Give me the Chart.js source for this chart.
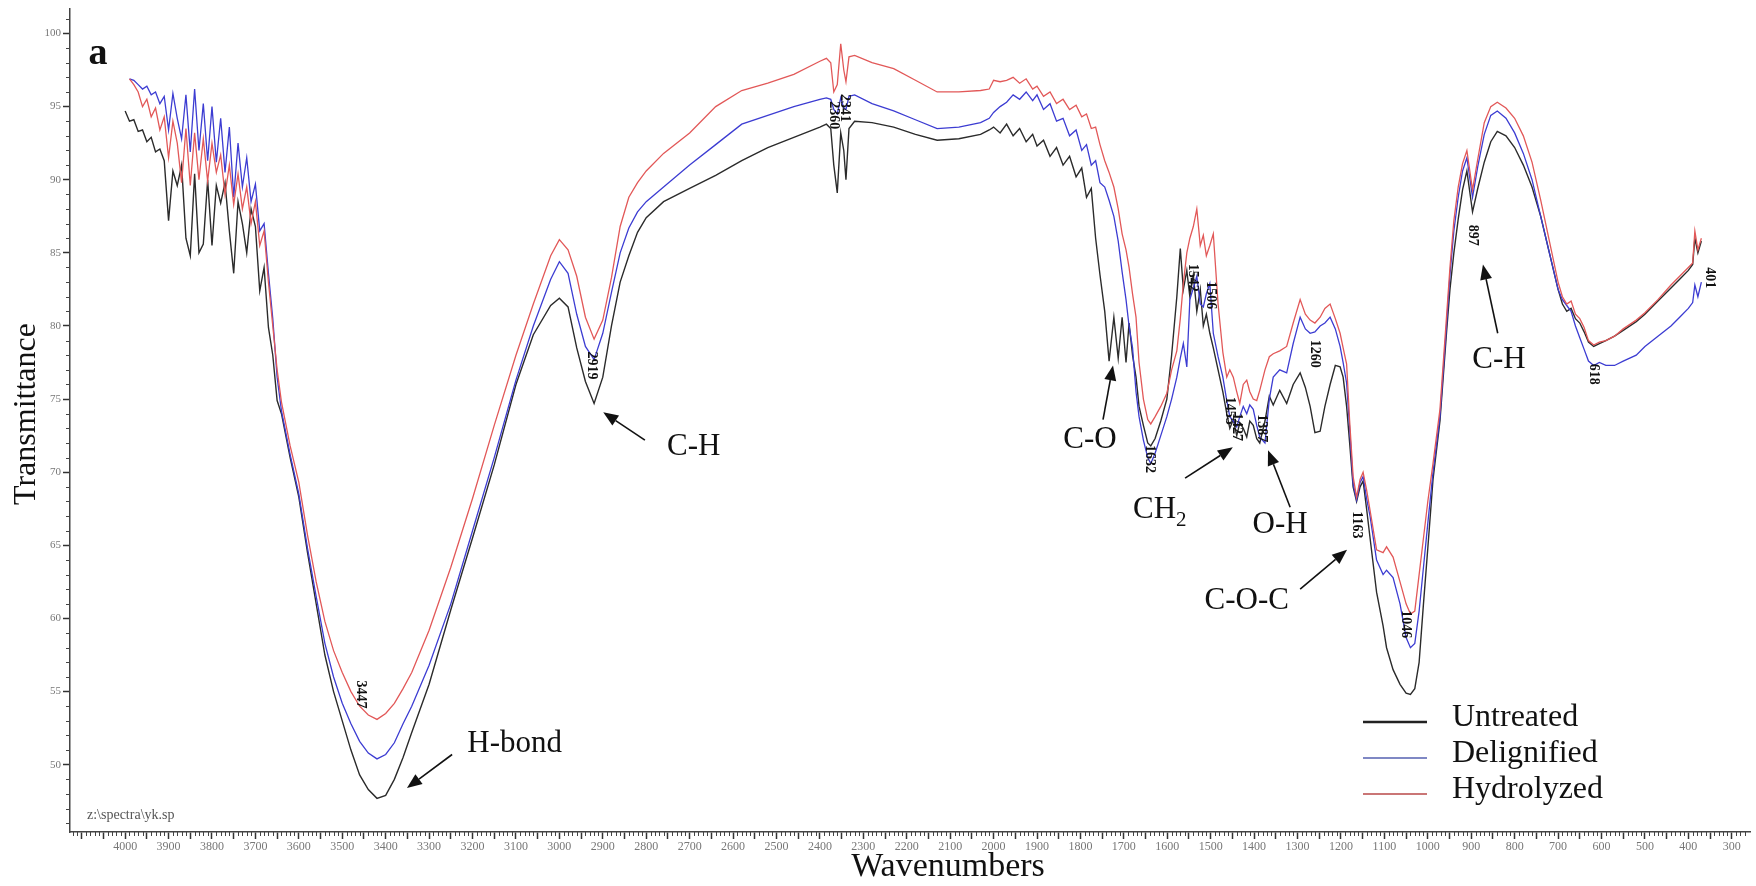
<!DOCTYPE html>
<html>
<head>
    <title>FTIR spectra</title>
    <script src="https://cdn.jsdelivr.net/npm/chart.js"></script>
    <style>
        html, body { margin: 0; padding: 0; background: #fff; }
    </style>
</head>
<body>
    <canvas id="ftirChart" width="1756" height="886"></canvas>
    <script>
    // wavenumber grid (cm-1)
    const wavenumbers = [
        4000, 3990, 3980, 3970, 3960, 3950, 3940, 3930, 3920, 3910, 3900, 3890, 3880, 3870, 3860, 3850, 3840, 3830,
        3820, 3810, 3800, 3790, 3780, 3770, 3760, 3750, 3740, 3730, 3720, 3710, 3700, 3690, 3680, 3670, 3660, 3650,
        3640, 3620, 3600, 3580, 3560, 3540, 3520, 3500, 3480, 3460, 3440, 3420, 3400, 3380, 3360, 3340,
        3300, 3250, 3200, 3150, 3100, 3060, 3020, 3000,
        2980, 2960, 2940, 2920, 2900, 2880, 2860, 2840, 2820,
        2800, 2760, 2700, 2640, 2580, 2520, 2460, 2400,
        2385, 2375, 2368, 2360, 2352, 2345, 2340, 2333, 2320,
        2280, 2230, 2180, 2130, 2080, 2030, 2010, 2000, 1985, 1970, 1955, 1940, 1925,
        1910, 1900, 1885, 1870, 1855, 1840, 1825, 1810, 1797, 1786, 1775, 1765, 1755,
        1744, 1734, 1723, 1713, 1704, 1695, 1688, 1680, 1672, 1665,
        1655, 1645, 1638, 1628, 1615, 1601, 1590, 1578, 1570, 1563,
        1555, 1548, 1540, 1532, 1524, 1517, 1510, 1502, 1494, 1483,
        1472, 1463, 1456, 1448, 1440, 1433, 1425, 1417, 1410, 1402,
        1394, 1387, 1375, 1365, 1356, 1341, 1325, 1310, 1294, 1282,
        1271, 1260, 1248, 1237, 1225, 1213, 1202, 1195, 1187, 1180,
        1172, 1164, 1156, 1149, 1141, 1133, 1118, 1103, 1095, 1080,
        1064, 1050, 1040, 1030, 1020, 1010, 1000, 988, 972, 957,
        949, 940, 930, 920, 910, 897, 885, 870, 855, 840,
        820, 800, 780, 760, 740, 720, 700, 690, 680, 670,
        660, 650, 640, 630, 618, 605, 590, 570, 550, 520,
        500, 470, 440, 420, 400, 390, 385, 378, 370
    ];

    const untreated = [
        94.7, 94.0, 94.1, 93.3, 93.4, 92.6, 92.9, 91.9, 92.1, 91.3, 87.2, 90.6, 89.6, 91.0, 86.0, 84.8, 90.4, 85.0,
        85.6, 90.0, 85.5, 89.6, 88.4, 89.8, 86.5, 83.6, 88.5, 87.0, 85.0, 88.0, 86.8, 82.4, 84.0, 79.9, 78.0, 74.9,
        74.0, 71.0, 68.3, 64.5, 61.0, 57.5, 55.0, 53.0, 51.0, 49.3, 48.3, 47.7, 47.9, 49.0, 50.5, 52.2,
        55.5, 60.6, 65.5, 70.5, 76.0, 79.4, 81.4, 81.9,
        81.3, 78.5, 76.2, 74.7, 76.5, 80.0, 83.0, 84.8, 86.4,
        87.4, 88.5, 89.4, 90.3, 91.3, 92.2, 92.9, 93.6,
        93.8, 93.5, 91.0, 89.1, 93.2, 92.0, 90.0, 93.5, 94.0,
        93.9, 93.6, 93.1, 92.7, 92.8, 93.1, 93.4, 93.6, 93.2, 93.8, 93.0, 93.5, 92.6,
        93.1, 92.3, 92.7, 91.6, 92.2, 91.0, 91.6, 90.2, 90.8, 88.8, 89.4, 86.0, 83.5,
        81.0, 77.6, 80.6, 77.8, 80.6, 77.5, 80.2, 78.0, 76.5, 74.5,
        73.2, 72.0, 71.8, 72.3, 73.5, 75.0, 78.0, 82.0, 85.3, 82.5,
        83.8, 82.0, 83.5, 81.0, 82.5, 80.0, 80.8, 79.5, 78.5, 77.0,
        75.5, 74.0, 73.0, 73.6, 72.5, 73.4, 73.0, 72.4, 73.5, 73.2,
        72.3, 72.0, 73.5, 75.2, 74.6, 75.6, 74.7, 76.0, 76.8, 75.8,
        74.5, 72.7, 72.8, 74.5, 76.0, 77.3, 77.2, 76.5, 74.5, 72.0,
        69.0, 68.0, 69.0, 69.4, 67.5, 65.5, 61.8, 59.5, 58.0, 56.5,
        55.5, 54.9, 54.8, 55.2, 57.0, 61.0, 64.8, 69.5, 73.5, 79.5,
        82.5, 85.0, 87.3, 89.3, 90.6, 87.8, 89.4, 91.2, 92.6, 93.3,
        93.0, 92.2, 91.0, 89.5, 87.5, 85.0, 82.5, 81.5, 81.0, 81.2,
        80.5, 80.2, 79.6, 78.9, 78.6, 78.8, 79.0, 79.3, 79.7, 80.3,
        80.8, 81.7, 82.6, 83.2, 83.8, 84.2, 86.0, 85.0, 85.8
    ];

    const delignified = [
        null, 96.9, 96.8, 96.5, 96.2, 96.4, 95.8, 96.0, 95.2, 95.7, 93.4, 95.9, 94.2, 92.8, 95.8, 91.9, 96.2, 92.0,
        95.2, 91.3, 95.0, 91.2, 94.2, 90.5, 93.6, 88.8, 92.5, 89.5, 91.5, 88.5, 89.7, 86.5, 87.0, 83.6, 80.5, 76.5,
        74.2, 71.2, 68.5, 64.8, 61.5, 58.3, 56.0, 54.2, 52.8, 51.6, 50.8, 50.4, 50.7, 51.5, 52.8, 54.0,
        56.8, 61.0, 66.0, 71.0, 76.3, 80.0, 83.2, 84.4,
        83.6, 80.8, 78.6, 77.7, 79.5, 82.3, 85.0, 86.7, 87.8,
        88.5, 89.5, 91.0, 92.4, 93.8, 94.4, 95.0, 95.5,
        95.6, 95.5, 94.8, 94.5, 95.6, 94.9, 94.8, 95.7, 95.8,
        95.2, 94.7, 94.1, 93.5, 93.6, 93.9, 94.2, 94.6, 95.0, 95.3, 95.8, 95.5, 96.0,
        95.4, 95.8, 94.8, 95.2, 94.0, 94.2, 93.0, 93.4, 92.0, 92.4, 91.0, 91.3, 89.8,
        89.5, 88.6, 87.5, 85.8, 83.7, 81.8, 80.0, 78.5, 75.5, 73.8,
        72.2, 71.0, 70.6, 71.3, 72.5, 73.8, 75.0, 76.5, 77.8, 78.8,
        77.2, 81.8, 82.6, 83.4, 81.5, 81.3, 82.2, 82.9, 79.5, 77.9,
        76.5, 74.9, 73.8, 73.5, 73.1, 73.8, 74.5, 74.0, 74.6, 74.3,
        73.2, 72.4, 72.0, 75.0, 76.5, 77.0, 76.8, 78.8, 80.6, 79.8,
        79.5, 79.6, 80.0, 80.2, 80.6, 79.8, 78.6, 77.5, 76.1, 73.0,
        69.2, 68.1, 69.3, 69.7, 68.2, 67.0, 64.0, 63.0, 63.3, 62.8,
        61.0, 58.7, 58.0, 58.3, 60.5, 63.5, 66.5, 70.0, 73.8, 80.0,
        83.5, 86.5, 88.8, 90.6, 91.5, 88.8, 90.9, 93.1, 94.4, 94.7,
        94.2, 93.2, 91.8, 90.0, 87.5, 85.0, 82.5, 81.8, 81.4, 81.0,
        80.0, 79.2, 78.4, 77.6, 77.3, 77.5, 77.3, 77.3, 77.6, 78.0,
        78.6, 79.3, 80.0, 80.6, 81.2, 81.6, 82.8, 82.0, 83.0
    ];

    const hydrolyzed = [
        null, 96.9, 96.5, 96.0, 95.0, 95.5, 94.3, 94.9, 93.4, 94.3, 91.5, 94.0, 92.5, 89.8, 93.5, 89.6, 93.2, 90.0,
        92.8, 89.9, 92.5, 90.5, 91.7, 89.0, 91.0, 88.3, 90.4, 88.0, 89.5, 87.0, 88.5, 85.5, 86.5, 83.0, 80.0, 77.0,
        74.8, 71.8, 69.3, 65.7, 62.5, 59.8, 57.8, 56.3, 55.0, 54.0, 53.4, 53.1, 53.5, 54.2, 55.2, 56.3,
        59.2, 63.5, 68.2, 73.2, 78.0, 81.5, 84.8, 85.9,
        85.2, 83.4, 80.6, 79.1, 80.4, 83.3, 86.8, 88.8, 89.8,
        90.6, 91.8, 93.2, 95.0, 96.1, 96.6, 97.2, 98.1,
        98.3, 98.0, 96.0, 96.5, 99.3, 97.5, 96.7, 98.4, 98.5,
        98.0, 97.6, 96.8, 96.0, 96.0, 96.1, 96.2, 96.8, 96.7, 96.8, 97.0, 96.6, 96.9,
        96.2, 96.4, 95.7, 96.0, 95.2, 95.5, 94.8, 95.1, 94.3, 94.5, 93.5, 93.6, 92.4,
        91.3, 90.5, 89.5, 88.0, 86.3, 85.2, 84.0, 82.2, 80.6, 77.5,
        75.0, 73.6, 73.3, 73.8, 74.5, 75.4, 77.0, 78.3, 80.5, 82.9,
        85.0, 86.0, 86.8, 88.0, 85.5, 86.2, 84.8, 85.5, 86.3, 81.5,
        78.2, 76.5, 77.0, 76.5, 75.5, 74.7, 76.0, 76.3, 75.5, 75.0,
        74.9, 75.6, 77.0, 77.9, 78.1, 78.3, 78.6, 80.2, 81.8, 80.8,
        80.4, 80.2, 80.6, 81.2, 81.5, 80.5, 79.5, 78.5, 77.4, 73.5,
        69.7, 68.3, 69.5, 70.0, 68.8, 67.4, 64.7, 64.5, 64.9, 64.2,
        62.5, 61.0, 60.3, 60.5, 63.0, 65.5, 68.0, 70.6, 74.3, 80.6,
        84.0, 87.2, 89.5, 91.1, 92.0, 89.3, 91.4, 93.9, 95.0, 95.3,
        94.9, 94.2, 93.0, 91.2, 88.6, 85.8, 83.0, 82.0, 81.5, 81.7,
        80.8, 80.5, 79.9, 79.0, 78.7, 78.9, 79.0, 79.3, 79.8, 80.4,
        80.9, 81.8, 82.8, 83.4, 84.0, 84.3, 86.5, 85.2, 86.0
    ];

    // peak labels written on the spectra: [text, wavenumber, transmittance]
    const peakLabels = [
        ['3447', 3457, 54.8], ['2919', 2925, 77.3], ['2360', 2368, 94.4], ['2341', 2343, 94.9],
        ['1632', 1640, 70.9], ['1542', 1541, 83.3], ['1506', 1500, 82.1], ['1455', 1456, 74.2],
        ['1427', 1440, 73.1], ['1387', 1382, 73.0], ['1260', 1260, 78.1], ['1163', 1163, 66.4],
        ['1046', 1050, 59.6], ['897', 896, 86.2], ['618', 618, 76.7], ['401', 352, 83.3]
    ];

    // band assignments with arrows (data coordinates)
    const bandNotes = [
        { text: 'H-bond', at: [3212, 51.4], align: 'left', from: [3247, 50.7], to: [3351, 48.4] },
        { text: 'C-H', at: [2752, 71.7], align: 'left', from: [2803, 72.2], to: [2899, 74.1] },
        { text: 'C-O', at: [1778, 72.2], align: 'center', from: [1748, 73.6], to: [1725, 77.3] },
        { text: 'CH', sub: '2', at: [1679, 67.4], align: 'left', from: [1559, 69.6], to: [1449, 71.7] },
        { text: 'O-H', at: [1340, 66.4], align: 'center', from: [1317, 67.6], to: [1368, 71.5] },
        { text: 'C-O-C', at: [1417, 61.2], align: 'center', from: [1294, 62.0], to: [1186, 64.7] },
        { text: 'C-H', at: [836, 77.7], align: 'center', from: [839, 79.5], to: [873, 84.2] }
    ];

    const serif = '"Liberation Serif", "Times New Roman", serif';

    function toPoints(values) {
        return wavenumbers.map((w, i) => ({ x: w, y: values[i] }));
    }

    function drawArrow(ctx, x1, y1, x2, y2) {
        const a = Math.atan2(y2 - y1, x2 - x1);
        const head = 15, half = 6;
        const bx = x2 - head * Math.cos(a), by = y2 - head * Math.sin(a);
        ctx.beginPath();
        ctx.moveTo(x1, y1);
        ctx.lineTo(bx, by);
        ctx.stroke();
        ctx.beginPath();
        ctx.moveTo(x2, y2);
        ctx.lineTo(bx + half * Math.sin(a), by - half * Math.cos(a));
        ctx.lineTo(bx - half * Math.sin(a), by + half * Math.cos(a));
        ctx.closePath();
        ctx.fill();
    }

    const spectrumNotes = {
        id: 'spectrumNotes',
        afterDraw(chart) {
            const { ctx, chartArea, scales: { x, y } } = chart;
            const px = w => x.getPixelForValue(w);
            const py = t => y.getPixelForValue(t);
            ctx.save();

            // minor ticks
            ctx.strokeStyle = '#444';
            ctx.lineWidth = 1;
            ctx.beginPath();
            for (let w = 270; w <= 4120; w += 10) {
                if (w % 50 === 0) continue;
                const X = Math.round(px(w)) + 0.5;
                ctx.moveTo(X, chartArea.bottom);
                ctx.lineTo(X, chartArea.bottom + 4);
            }
            for (let t = 46; t <= 101; t++) {
                if (t % 5 === 0) continue;
                const Y = Math.round(py(t)) + 0.5;
                ctx.moveTo(chartArea.left - 4, Y);
                ctx.lineTo(chartArea.left, Y);
            }
            ctx.stroke();

            // peak labels, rotated
            ctx.fillStyle = '#111';
            ctx.font = 'bold 14px ' + serif;
            ctx.textAlign = 'center';
            ctx.textBaseline = 'middle';
            peakLabels.forEach(([txt, w, t]) => {
                ctx.save();
                ctx.translate(px(w), py(t));
                ctx.rotate(Math.PI / 2);
                ctx.fillText(txt, 0, 0);
                ctx.restore();
            });

            // band notes and arrows
            ctx.strokeStyle = '#111';
            ctx.lineWidth = 1.6;
            ctx.font = '31px ' + serif;
            bandNotes.forEach(n => {
                const tx = px(n.at[0]), ty = py(n.at[1]);
                ctx.textAlign = n.align;
                ctx.fillText(n.text, tx, ty);
                if (n.sub) {
                    const wMain = ctx.measureText(n.text).width;
                    ctx.font = '21px ' + serif;
                    ctx.textAlign = 'left';
                    ctx.fillText(n.sub, tx + wMain, ty + 10);
                    ctx.font = '31px ' + serif;
                }
                drawArrow(ctx, px(n.from[0]), py(n.from[1]), px(n.to[0]), py(n.to[1]));
            });

            // legend
            const legendColors = ['#222', '#5560b0', '#b84848'];
            const legendWidths = [2.5, 1.6, 1.6];
            ctx.font = '32px ' + serif;
            ctx.textAlign = 'left';
            chart.data.datasets.forEach((ds, i) => {
                const rowY = chartArea.bottom - 114 + i * 36;
                ctx.strokeStyle = legendColors[i];
                ctx.lineWidth = legendWidths[i];
                ctx.beginPath();
                ctx.moveTo(chartArea.right - 387, rowY + 4);
                ctx.lineTo(chartArea.right - 323, rowY + 4);
                ctx.stroke();
                ctx.fillStyle = '#111';
                ctx.fillText(ds.label, chartArea.right - 298, rowY);
            });

            // panel letter and file name
            ctx.font = 'bold 38px ' + serif;
            ctx.textAlign = 'center';
            ctx.fillText('a', chartArea.left + 28, chartArea.top + 46);
            ctx.font = '14px ' + serif;
            ctx.fillStyle = '#555';
            ctx.textAlign = 'left';
            ctx.fillText('z:\\spectra\\yk.sp', chartArea.left + 17, chartArea.bottom - 17);

            // axis titles
            ctx.fillStyle = '#111';
            ctx.font = '34px ' + serif;
            ctx.textAlign = 'center';
            ctx.fillText('Wavenumbers', 948, chartArea.bottom + 35);
            ctx.save();
            ctx.translate(27, 414);
            ctx.rotate(-Math.PI / 2);
            ctx.font = '32px ' + serif;
            ctx.fillText('Transmittance', 0, 0);
            ctx.restore();

            ctx.restore();
        }
    };

    const ctx = document.getElementById('ftirChart').getContext('2d');
    new Chart(ctx, {
        type: 'line',
        data: {
            datasets: [
                { label: 'Untreated', data: toPoints(untreated), borderColor: '#2b2b2b', borderWidth: 1.4, order: 3 },
                { label: 'Delignified', data: toPoints(delignified), borderColor: '#3c3cd2', borderWidth: 1.3, order: 2 },
                { label: 'Hydrolyzed', data: toPoints(hydrolyzed), borderColor: '#e25858', borderWidth: 1.3, order: 1 }
            ]
        },
        options: {
            responsive: false,
            animation: false,
            elements: { point: { radius: 0 }, line: { tension: 0 } },
            layout: { padding: { top: 8, right: 6, left: 0, bottom: 0 } },
            plugins: { legend: { display: false }, tooltip: { enabled: false } },
            scales: {
                x: {
                    type: 'linear',
                    reverse: true,
                    min: 258,
                    max: 4127,
                    afterFit: s => { s.height = 54; },
                    border: { display: true, color: '#444', width: 1.5 },
                    grid: { drawOnChartArea: false, tickLength: 7, color: '#333', tickWidth: 1.5 },
                    ticks: {
                        stepSize: 50,
                        autoSkip: false,
                        maxRotation: 0,
                        includeBounds: false,
                        padding: 1,
                        color: '#777',
                        font: { family: serif, size: 12 },
                        callback: v => (v % 100 === 0 && v <= 4000) ? String(v) : ''
                    }
                },
                y: {
                    min: 45.4,
                    max: 101.7,
                    afterFit: s => { s.width = 70; },
                    border: { display: true, color: '#444', width: 1.5 },
                    grid: { drawOnChartArea: false, tickLength: 7, color: '#333', tickWidth: 1.5 },
                    ticks: {
                        stepSize: 5,
                        includeBounds: false,
                        padding: 2,
                        color: '#777',
                        font: { family: serif, size: 11 },
                        callback: v => (v % 5 === 0) ? String(v) : ''
                    }
                }
            }
        },
        plugins: [spectrumNotes]
    });
    </script>
</body>
</html>
